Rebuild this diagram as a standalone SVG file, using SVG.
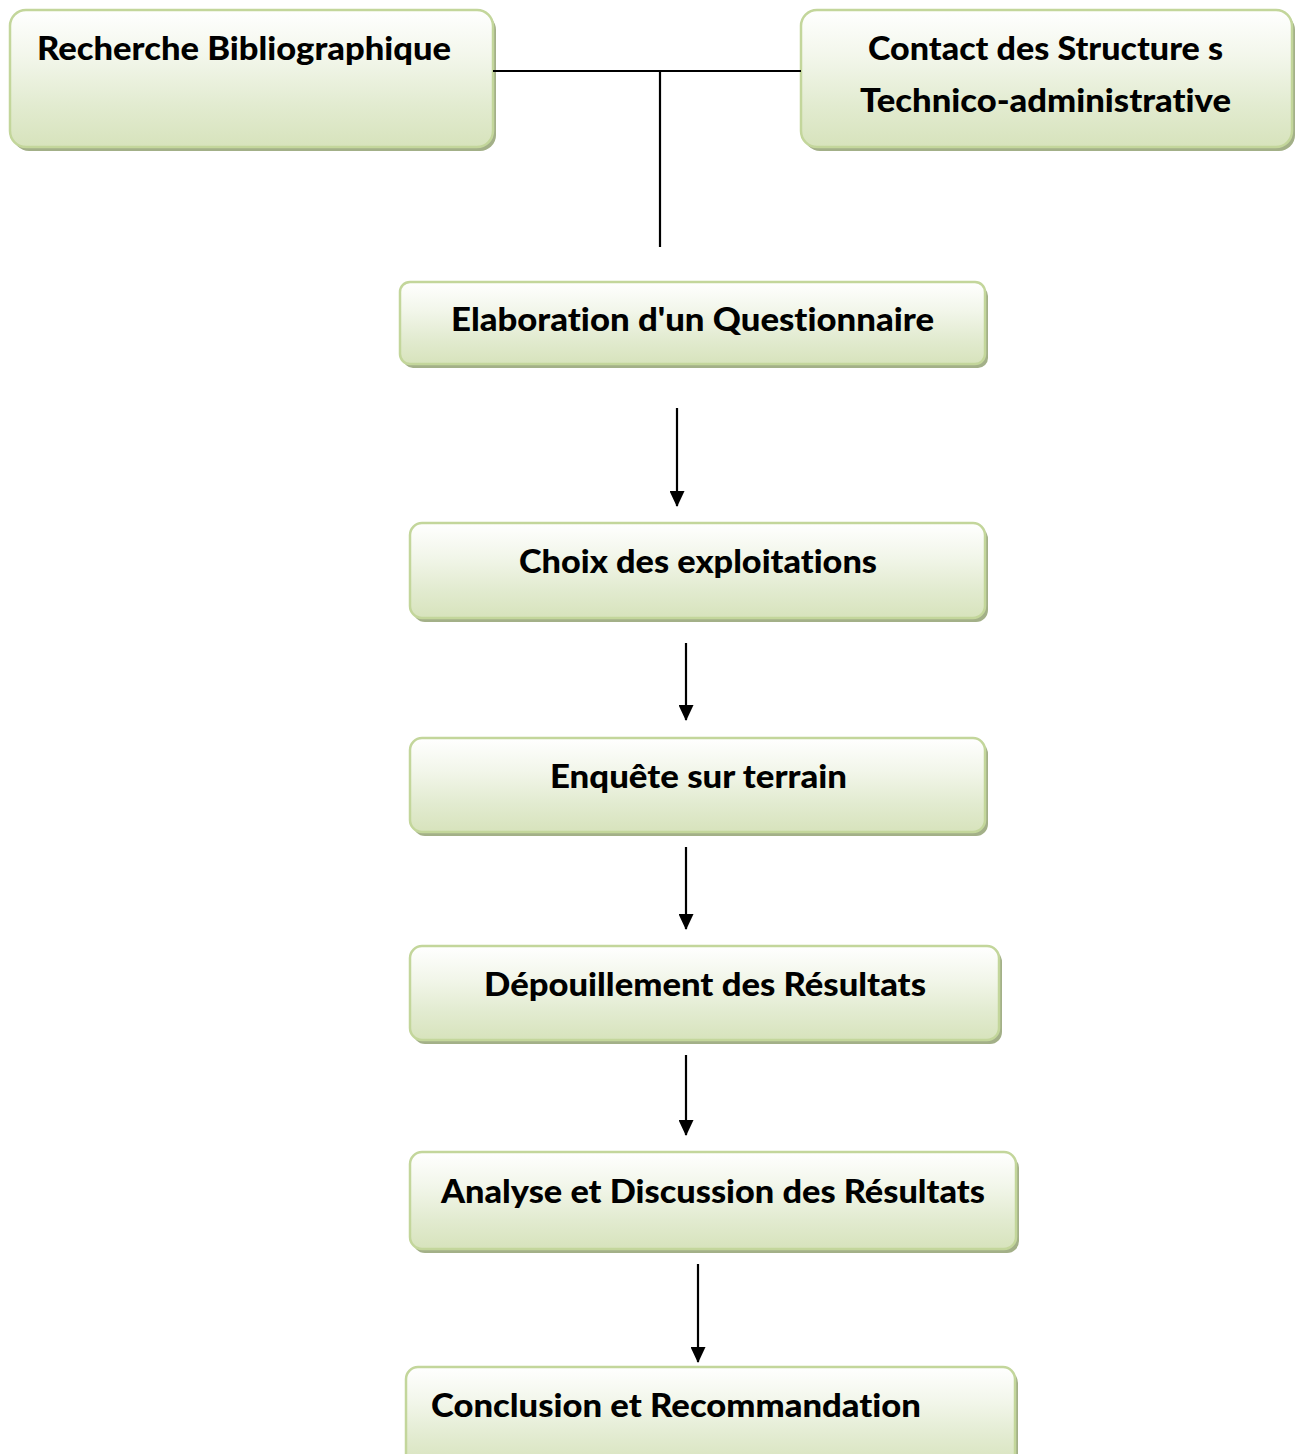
<svg xmlns="http://www.w3.org/2000/svg" width="1295" height="1454" viewBox="0 0 1295 1454">
<style>
.box{fill:url(#g);stroke:#c3d69b;stroke-width:2.5}
.sh{fill:#a3b088}
.t{font-family:Lato,"Open Sans","Liberation Sans",sans-serif;font-weight:900;font-size:32px;fill:#000;font-variant-ligatures:none}
.c{stroke:#000;stroke-width:2.2;fill:none}
</style>
<defs>
<linearGradient id="g" x1="0" y1="0" x2="0" y2="1">
<stop offset="0" stop-color="#ffffff"/>
<stop offset="0.35" stop-color="#f2f6ea"/>
<stop offset="0.7" stop-color="#e2ebd0"/>
<stop offset="1" stop-color="#d7e3bc"/>
</linearGradient>
<marker id="a" viewBox="0 0 16 15" refX="15" refY="7.5" markerWidth="16" markerHeight="15" markerUnits="userSpaceOnUse" orient="auto">
<path d="M0,0 L16,7.5 L0,15 Z" fill="#000"/>
</marker>
</defs>
<g id="n1">
<rect class="sh" x="13" y="14" width="483" height="137" rx="16"/>
<rect class="box" x="10" y="10" width="483" height="137" rx="16"/>
<text class="t" x="37" y="60" textLength="414" lengthAdjust="spacingAndGlyphs">Recherche Bibliographique</text>
</g>
<g id="n2">
<rect class="sh" x="804" y="14" width="491" height="137" rx="16"/>
<rect class="box" x="801" y="10" width="491" height="137" rx="16"/>
<text class="t" x="868" y="60" textLength="355" lengthAdjust="spacingAndGlyphs">Contact des Structure s</text>
<text class="t" x="860" y="112" textLength="371" lengthAdjust="spacingAndGlyphs">Technico-administrative</text>
</g>
<g id="n3">
<rect class="sh" x="403" y="286" width="585" height="82" rx="10"/>
<rect class="box" x="400" y="282" width="585" height="82" rx="10"/>
<text class="t" x="451" y="331" textLength="483" lengthAdjust="spacingAndGlyphs">Elaboration d'un Questionnaire</text>
</g>
<g id="n4">
<rect class="sh" x="413" y="527" width="575" height="95" rx="12"/>
<rect class="box" x="410" y="523" width="575" height="95" rx="12"/>
<text class="t" x="519" y="573" textLength="358" lengthAdjust="spacingAndGlyphs">Choix des exploitations</text>
</g>
<g id="n5">
<rect class="sh" x="413" y="742" width="575" height="94" rx="12"/>
<rect class="box" x="410" y="738" width="575" height="94" rx="12"/>
<text class="t" x="550" y="788" textLength="297" lengthAdjust="spacingAndGlyphs">Enquête sur terrain</text>
</g>
<g id="n6">
<rect class="sh" x="413" y="950" width="589" height="94" rx="12"/>
<rect class="box" x="410" y="946" width="589" height="94" rx="12"/>
<text class="t" x="484" y="996" textLength="442" lengthAdjust="spacingAndGlyphs">Dépouillement des Résultats</text>
</g>
<g id="n7">
<rect class="sh" x="413" y="1156" width="606" height="97" rx="12"/>
<rect class="box" x="410" y="1152" width="606" height="97" rx="12"/>
<text class="t" x="441" y="1203" textLength="544" lengthAdjust="spacingAndGlyphs">Analyse et Discussion des Résultats</text>
</g>
<g id="n8">
<rect class="sh" x="409" y="1371" width="609" height="100" rx="12"/>
<rect class="box" x="406" y="1367" width="609" height="100" rx="12"/>
<text class="t" x="431" y="1417" textLength="490" lengthAdjust="spacingAndGlyphs">Conclusion et Recommandation</text>
</g>
<g id="connectors">
<path class="c" d="M493,71 H801"/>
<path class="c" d="M660,71 V247"/>
<path class="c" d="M677,408 V506" marker-end="url(#a)"/>
<path class="c" d="M686,643 V720" marker-end="url(#a)"/>
<path class="c" d="M686,847 V929" marker-end="url(#a)"/>
<path class="c" d="M686,1055 V1135" marker-end="url(#a)"/>
<path class="c" d="M698,1264 V1362" marker-end="url(#a)"/>
</g>
</svg>
